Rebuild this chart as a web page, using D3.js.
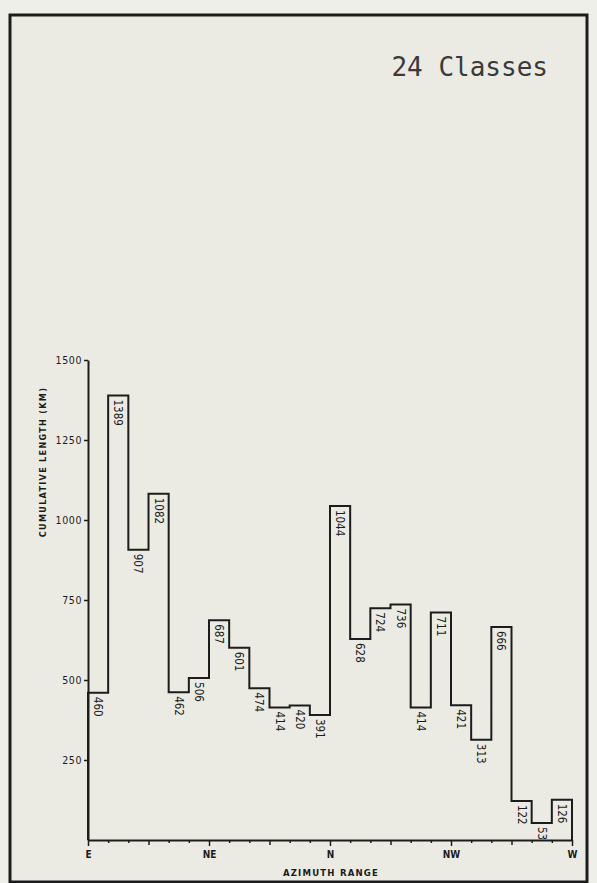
<!DOCTYPE html>
<html>
<head>
<meta charset="utf-8">
<script src="https://cdn.jsdelivr.net/npm/d3@7"></script>
<style>
  body { margin: 0; background: #efefe9; }
  svg { display: block; }
</style>
</head>
<body>
<div id="chart"></div>
<script>
// 24 azimuth classes, cumulative length per class (km)
var classValues = [460, 1389, 907, 1082, 462, 506, 687, 601, 474, 414, 420, 391,
                   1044, 628, 724, 736, 414, 711, 421, 313, 666, 122, 53, 126];
var yTicks = [250, 500, 750, 1000, 1250, 1500];
var dirLabels = ["E", "NE", "N", "NW", "W"];
var dirPositions = [0, 6, 12, 18, 24];

var svgWidth = 597;
var svgHeight = 883;
var ink = "#1c1c1c";
var lettering = "'DejaVu Sans Condensed', 'Liberation Sans Narrow', 'DejaVu Sans', sans-serif";

var svg = d3.select("#chart")
  .append("svg")
  .attr("width", svgWidth)
  .attr("height", svgHeight);

// paper + frame
svg.append("rect")
  .attr("x", 10).attr("y", 15)
  .attr("width", 577).attr("height", 867)
  .attr("fill", "#ebebe4")
  .attr("stroke", ink)
  .attr("stroke-width", 3);

var x = d3.scaleLinear().domain([0, classValues.length]).range([88, 572]);
var y = d3.scaleLinear().domain([0, 1500]).range([840, 360]);

// y axis
var yAxis = svg.append("g")
  .attr("transform", `translate(${x(0)},0)`)
  .call(d3.axisLeft(y).tickValues(yTicks).tickFormat(d3.format("d"))
    .tickSize(4).tickSizeOuter(0).tickPadding(2));
yAxis.select(".domain").attr("stroke", ink).attr("stroke-width", 2);
yAxis.selectAll(".tick line").attr("stroke", ink).attr("stroke-width", 1.5);
yAxis.selectAll(".tick text")
  .attr("fill", ink)
  .style("font-family", lettering)
  .style("font-size", "10.5px")
  .style("letter-spacing", "0.6px");

// x axis
var xAxis = svg.append("g")
  .attr("transform", `translate(0,${y(0)})`)
  .call(d3.axisBottom(x).tickValues(d3.range(0, 25)).tickSizeOuter(0).tickPadding(5)
    .tickFormat(d => {
      var k = dirPositions.indexOf(d);
      return k >= 0 ? dirLabels[k] : "";
    }));
xAxis.select(".domain").attr("stroke", ink).attr("stroke-width", 2);
xAxis.selectAll(".tick line")
  .attr("stroke", ink)
  .attr("stroke-width", 1.5)
  .attr("y2", d => d % 6 === 0 ? 6 : (d % 3 === 0 ? 5 : 3));
xAxis.selectAll(".tick text")
  .attr("fill", ink)
  .style("font-family", lettering)
  .style("font-size", "10px")
  .style("font-weight", "bold");

// stepped outline of the histogram
var pts = [[0, 0]];
classValues.forEach((v, i) => pts.push([i, v]));
pts.push([classValues.length, 0]);

var step = d3.line()
  .x(d => x(d[0]))
  .y(d => y(d[1]))
  .curve(d3.curveStepAfter);

svg.append("path")
  .datum(pts)
  .attr("d", step)
  .attr("fill", "none")
  .attr("stroke", ink)
  .attr("stroke-width", 2);

// value labels, written downwards just under each class top
svg.selectAll(".val")
  .data(classValues)
  .enter()
  .append("text")
  .attr("class", "val")
  .attr("transform", (d, i) => `translate(${x(i + 0.5)},${y(d) + 4}) rotate(90)`)
  .attr("dy", "0.35em")
  .attr("fill", ink)
  .style("font-family", lettering)
  .style("font-size", "11.5px")
  .text(d => d);

// axis titles
svg.append("text")
  .attr("transform", "translate(46,462) rotate(-90)")
  .attr("text-anchor", "middle")
  .attr("fill", ink)
  .style("font-family", lettering)
  .style("font-size", "9px")
  .style("font-weight", "bold")
  .style("letter-spacing", "1.3px")
  .text("CUMULATIVE LENGTH (KM)");

svg.append("text")
  .attr("x", 331)
  .attr("y", 876)
  .attr("text-anchor", "middle")
  .attr("fill", ink)
  .style("font-family", lettering)
  .style("font-size", "9.5px")
  .style("font-weight", "bold")
  .style("letter-spacing", "1.2px")
  .text("AZIMUTH RANGE");

// title
svg.append("text")
  .attr("x", 548)
  .attr("y", 76)
  .attr("text-anchor", "end")
  .attr("fill", "#3a3a3a")
  .style("font-family", "'DejaVu Sans Mono', 'Liberation Mono', monospace")
  .style("font-size", "26px")
  .text("24 Classes");
</script>
</body>
</html>
